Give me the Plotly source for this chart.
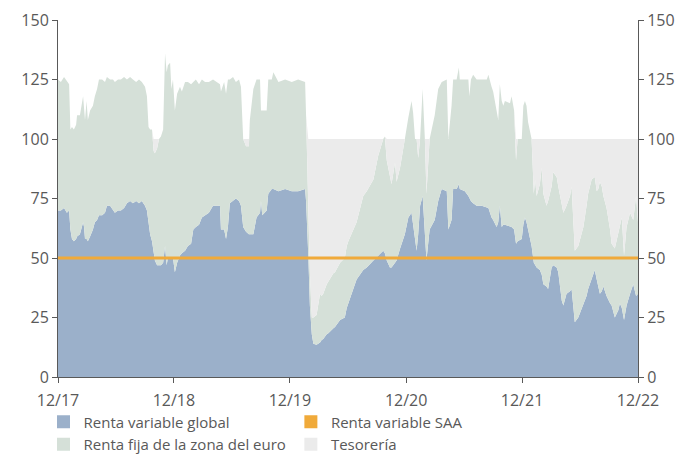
import plotly.graph_objects as go

# ---- data ----
dates = [
    "2017-12-01", "2017-12-10", "2017-12-20", "2017-12-29", "2018-01-05", "2018-01-09", "2018-01-14", "2018-01-20",
    "2018-01-27", "2018-01-30", "2018-02-08", "2018-02-18", "2018-02-21", "2018-02-24", "2018-03-01", "2018-03-05",
    "2018-03-12", "2018-03-21", "2018-03-27", "2018-04-03", "2018-04-09", "2018-04-19", "2018-04-28", "2018-05-04",
    "2018-05-14", "2018-05-23", "2018-05-29", "2018-06-08", "2018-06-17", "2018-06-27", "2018-07-06", "2018-07-16",
    "2018-07-25", "2018-08-04", "2018-08-13", "2018-08-22", "2018-09-01", "2018-09-07", "2018-09-12", "2018-09-17",
    "2018-09-23", "2018-09-28", "2018-10-02", "2018-10-09", "2018-10-15", "2018-10-21", "2018-10-28", "2018-11-03",
    "2018-11-08", "2018-11-12", "2018-11-19", "2018-11-23", "2018-11-28", "2018-12-04", "2018-12-11", "2018-12-20",
    "2018-12-26", "2019-01-05", "2019-01-14", "2019-01-24", "2019-01-31", "2019-02-08", "2019-02-18", "2019-02-27",
    "2019-03-09", "2019-03-21", "2019-04-03", "2019-04-16", "2019-04-25", "2019-04-28", "2019-05-08", "2019-05-14",
    "2019-05-20", "2019-05-26", "2019-06-05", "2019-06-14", "2019-06-24", "2019-06-30", "2019-07-07", "2019-07-16",
    "2019-07-25", "2019-07-28", "2019-08-03", "2019-08-08", "2019-08-18", "2019-08-29", "2019-09-01", "2019-09-05",
    "2019-09-19", "2019-09-24", "2019-10-05", "2019-10-10", "2019-10-26", "2019-11-16", "2019-12-07", "2019-12-27",
    "2020-01-18", "2020-01-21", "2020-01-28", "2020-02-02", "2020-02-08", "2020-02-13", "2020-02-23", "2020-03-05",
    "2020-03-10", "2020-03-15", "2020-03-26", "2020-03-31", "2020-04-16", "2020-04-21", "2020-05-07", "2020-05-22",
    "2020-05-28", "2020-06-02", "2020-06-23", "2020-06-28", "2020-07-19", "2020-07-30", "2020-08-20", "2020-09-04",
    "2020-09-20", "2020-09-25", "2020-10-01", "2020-10-11", "2020-10-16", "2020-10-27", "2020-11-01", "2020-11-12",
    "2020-11-22", "2020-11-27", "2020-12-08", "2020-12-18", "2020-12-23", "2020-12-29", "2021-01-03", "2021-01-08",
    "2021-01-14", "2021-01-22", "2021-01-29", "2021-02-03", "2021-02-13", "2021-03-01", "2021-03-12", "2021-03-23",
    "2021-04-08", "2021-04-13", "2021-04-23", "2021-04-28", "2021-05-09", "2021-05-16", "2021-05-19", "2021-06-04",
    "2021-06-15", "2021-06-18", "2021-06-23", "2021-06-30", "2021-07-11", "2021-07-27", "2021-08-12", "2021-08-17",
    "2021-08-22", "2021-08-27", "2021-09-01", "2021-09-12", "2021-09-17", "2021-09-22", "2021-09-28", "2021-10-03",
    "2021-10-08", "2021-10-24", "2021-10-29", "2021-11-06", "2021-11-12", "2021-11-17", "2021-11-30", "2021-12-05",
    "2021-12-10", "2021-12-15", "2021-12-20", "2021-12-31", "2022-01-07", "2022-01-11", "2022-01-16", "2022-01-26",
    "2022-02-01", "2022-02-06", "2022-02-16", "2022-02-21", "2022-03-04", "2022-03-09", "2022-03-20", "2022-03-25",
    "2022-03-30", "2022-04-05", "2022-04-10", "2022-04-20", "2022-05-01", "2022-05-06", "2022-05-11", "2022-05-16",
    "2022-05-27", "2022-06-12", "2022-06-22", "2022-06-27", "2022-07-08", "2022-07-18", "2022-07-24", "2022-07-29",
    "2022-08-03", "2022-08-09", "2022-08-14", "2022-08-19", "2022-08-24", "2022-09-04", "2022-09-09", "2022-09-19",
    "2022-09-30", "2022-10-05", "2022-10-11", "2022-10-18", "2022-10-26", "2022-11-06", "2022-11-16", "2022-11-25",
    "2022-12-01",
]

renta_variable_global = [
    70, 70, 71, 69, 70, 62, 58, 57, 58, 59, 60, 65, 63, 58, 58, 57,
    59, 62, 65, 66, 68, 68, 69, 72, 72, 70, 69, 70, 70, 71, 73, 74,
    73, 74, 73, 74, 72, 70, 64, 60, 57, 52, 49, 47, 47, 47, 48, 55,
    47, 50, 50, 50, 50, 44, 48, 51, 52, 53, 55, 56, 62, 63, 64, 67,
    68, 69, 72, 72, 72, 62, 62, 58, 63, 73, 74, 75, 74, 72, 63, 61,
    60, 60, 60, 60, 67, 69, 74, 68, 70, 77, 79, 79, 78, 79, 78, 78,
    79, 74, 51, 30, 18, 14, 13.5, 14.5, 15.5, 16, 18, 18.4, 20.5, 21, 24, 25,
    29, 31, 39, 41, 45, 46, 49, 51, 53, 52, 49, 46, 46, 48, 49, 54,
    58, 60, 67, 69, 64, 59, 53, 60, 72, 76, 60, 49, 62, 66, 74, 79,
    78, 62, 66, 79, 79, 81, 79, 78, 76, 75, 74, 73, 72, 72, 71, 71,
    69, 67, 66, 63, 65, 72, 63, 64, 64, 63, 63, 62, 56, 57, 58, 64,
    67, 65, 62, 55, 48, 47, 46, 45, 43, 39, 38, 37, 46, 47, 46, 44,
    38, 32, 30, 35, 36, 37, 30, 23, 25, 31, 34, 37, 41, 45, 41, 38,
    35, 36, 38, 36, 34, 31, 30, 25, 28, 31, 29, 24, 30, 35, 39, 34,
    35,
]

renta_fija_euro = [
    55, 54, 55, 55, 53, 42, 47, 47, 48, 51, 50, 53, 49, 50, 58, 51,
    53, 52, 53, 55, 57, 57, 55, 54, 53, 55, 55, 55, 55, 55, 52, 52,
    52, 50, 52, 50, 50, 48, 41, 44, 47, 43, 45, 49, 53, 54, 56, 81,
    81, 81, 82, 71, 75, 68, 71, 71, 68, 71, 69, 67, 62, 62, 59, 58,
    56, 55, 53, 52, 51, 58, 62, 61, 62, 52, 52, 49, 51, 50, 37, 36,
    37, 48, 56, 61, 58, 56, 38, 44, 42, 48, 46, 49, 46, 46, 46, 47,
    45, 36, 21, 14, 7, 11, 12.5, 20.5, 18.5, 19, 21, 21.6, 23.1, 23, 24, 25,
    26, 26, 24, 24, 31, 32, 34, 42, 47, 49, 42, 38, 35, 42, 33, 34,
    37, 40, 42, 47, 47, 41, 47, 32, 28, 45, 40, 28, 38, 44, 47, 45,
    47, 38, 48, 46, 46, 49, 46, 47, 49, 43, 51, 54, 53, 53, 54, 56,
    55, 55, 54, 49, 43, 51, 53, 50, 52, 52, 55, 50, 35, 43, 42, 50,
    49, 49, 45, 45, 29, 36, 30, 36, 45, 38, 34, 37, 34, 39, 38, 36,
    39, 40, 39, 37, 40, 43, 36, 30, 30, 32, 38, 40, 42, 39, 37, 41,
    47, 44, 38, 37, 37, 31, 26, 29, 32, 33, 38, 27, 33, 34, 27, 42,
    30,
]

tesoreria = [
    0, 0, 0, 0, 0, 0, 0, 0, 0, 0, 0, 0, 0, 0, 0, 0,
    0, 0, 0, 0, 0, 0, 0, 0, 0, 0, 0, 0, 0, 0, 0, 0,
    0, 0, 0, 0, 0, 0, 0, 0, 0, 5, 6, 4, 0, 0, 0, 0,
    0, 0, 0, 0, 0, 0, 0, 0, 0, 0, 0, 0, 0, 0, 0, 0,
    0, 0, 0, 0, 0, 0, 0, 0, 0, 0, 0, 0, 0, 0, 0, 3,
    3, 0, 0, 0, 0, 0, 0, 0, 0, 0, 0, 0, 0, 0, 0, 0,
    0, 0, 28, 56, 75, 75, 74, 65, 66, 65, 61, 60, 56.4, 56, 52, 50,
    45, 43, 37, 35, 24, 22, 17, 7, 0, 0, 9, 16, 19, 10, 18, 12,
    5, 0, 0, 0, 0, 0, 0, 8, 0, 0, 0, 23, 0, 0, 0, 0,
    0, 0, 0, 0, 0, 0, 0, 0, 0, 0, 0, 0, 0, 0, 0, 0,
    0, 0, 0, 0, 0, 0, 0, 0, 0, 0, 0, 0, 9, 0, 0, 0,
    0, 0, 0, 0, 23, 17, 24, 19, 12, 23, 28, 26, 20, 14, 16, 20,
    23, 28, 31, 28, 24, 20, 34, 47, 45, 37, 28, 23, 17, 16, 22, 21,
    18, 20, 24, 27, 29, 38, 44, 46, 40, 36, 33, 49, 37, 31, 34, 24,
    35,
]

saa_value = 50
saa_dates = ["2017-12-01", "2022-12-01"]

tick_dates = ["2017-12-01", "2018-12-01", "2019-12-01", "2020-12-01", "2021-12-01", "2022-12-01"]
tick_labels = ["12/17", "12/18", "12/19", "12/20", "12/21", "12/22"]
y_ticks = [0, 25, 50, 75, 100, 125, 150]

names = ["Renta variable global", "Renta variable SAA", "Renta fija de la zona del euro", "Tesorería"]

# ---- styles ----
C_RV = "#9BB0CA"
C_RF = "#D5E0D8"
C_TES = "#EBEBEB"
C_SAA = "#F0AA3A"
AX = "#595959"
FONT = "Open Sans"

fig = go.Figure()

for vals, col in [(renta_variable_global, C_RV), (renta_fija_euro, C_RF), (tesoreria, C_TES)]:
    fig.add_trace(go.Scatter(
        x=dates, y=vals, mode="lines", stackgroup="alloc",
        line=dict(width=0, color=col), fillcolor=col,
        showlegend=False, hoverinfo="skip",
    ))

# orange SAA line on the overlay axis so it is drawn above the areas
fig.add_trace(go.Scatter(
    x=saa_dates, y=[saa_value, saa_value], mode="lines",
    line=dict(color=C_SAA, width=3), yaxis="y2",
    showlegend=False, hoverinfo="skip",
))

# legend entries (square swatches)
for name, col, rank in [(names[0], C_RV, 1), (names[1], C_SAA, 2), (names[2], C_RF, 3), (names[3], C_TES, 4)]:
    fig.add_trace(go.Scatter(
        x=[None], y=[None], mode="markers", name=name,
        marker=dict(symbol="square", size=13, color=col),
        legendrank=rank,
    ))

axis_common = dict(
    range=[0, 150], tickvals=y_ticks, showline=True, linecolor=AX, linewidth=1,
    ticks="outside", ticklen=5, tickcolor=AX, showgrid=False, zeroline=False,
    tickfont=dict(family=FONT, size=16, color=AX), automargin=False,
)

fig.update_layout(
    width=686, height=457,
    margin=dict(l=58, r=48, t=20, b=80, autoexpand=False),
    paper_bgcolor="white", plot_bgcolor="white",
    font=dict(family=FONT, size=15, color=AX),
    xaxis=dict(
        type="date", range=["2017-12-01", "2022-12-01"],
        tickvals=tick_dates, ticktext=tick_labels,
        showline=True, linecolor=AX, linewidth=1,
        ticks="outside", ticklen=5, tickcolor=AX, showgrid=False, zeroline=False,
        tickfont=dict(family=FONT, size=16, color=AX), automargin=False,
        ticklabelstandoff=4,
    ),
    yaxis=dict(**axis_common),
    yaxis2=dict(**axis_common, overlaying="y", side="right"),
    legend=dict(
        orientation="h", x=-0.025, xanchor="left", y=-0.08, yanchor="top",
        traceorder="normal",
        font=dict(family=FONT, size=15, color=AX),
        bgcolor="rgba(0,0,0,0)", itemwidth=30, tracegroupgap=0,
    ),
    hovermode=False,
)

fig.write_html(
    "out.html",
    config={"displayModeBar": False},
    post_script="document.body.style.margin='0';document.body.style.padding='0';",
)
